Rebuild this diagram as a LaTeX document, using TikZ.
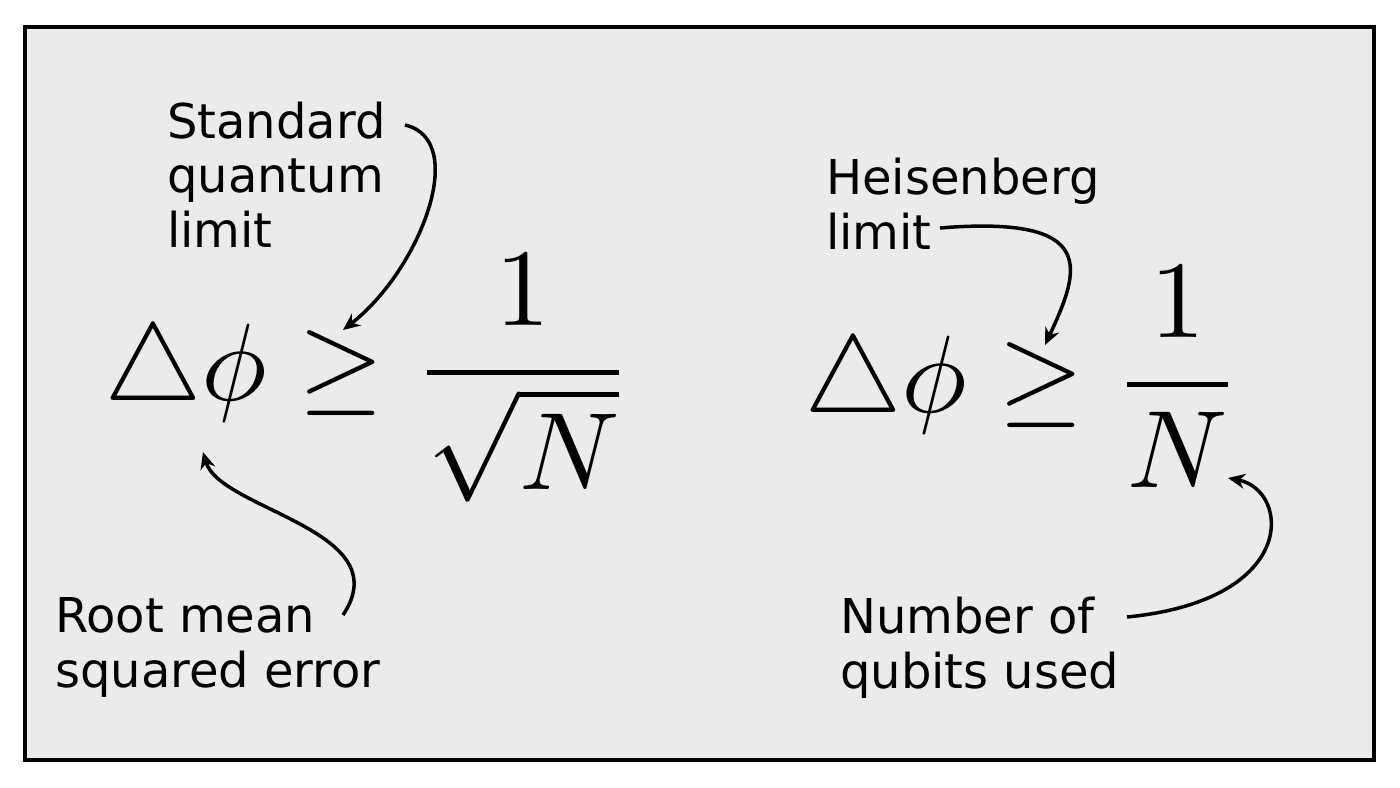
\documentclass[tikz,border=0pt]{standalone}
\usepackage{amsmath}
\usepackage{graphicx}
\usepackage{fontspec}
\setmainfont{DejaVu Sans}
\usetikzlibrary{arrows.meta}
\begin{document}
\begin{tikzpicture}[x=1pt,y=-1pt,
  lbl/.style={anchor=base west,align=left,font=\fontsize{48}{54.5}\selectfont,inner sep=0pt},
  eq/.style={anchor=base west,inner sep=0pt},
  arr/.style={line width=3.5pt,-{Stealth[length=17pt,width=15pt]}}]
\useasboundingbox (0,0) rectangle (1400,787);
\draw[line width=4pt,fill={rgb,255:red,235;green,235;blue,235}] (25,27) rectangle (1374,760);
\node[lbl] (sql) at (167,247) {Standard\\quantum\\limit};
\node[lbl] (rms) at (55,687) {Root mean\\squared error};
\node[lbl] (hl) at (826,249) {Heisenberg\\limit};
\node[lbl] (nq) at (840,688) {Number of\\qubits used};
\node[eq] (e1) at (104,400) {\scalebox{11}{$\triangle\phi\geq\dfrac{1}{\sqrt{N}}$}};
\node[eq] (e2) at (804,412) {\scalebox{11}{$\triangle\phi\geq\dfrac{1}{N}$}};
\coordinate (a1s) at (405,125); \coordinate (a1e) at (343,330);
\coordinate (a2s) at (343,615); \coordinate (a2e) at (203,452);
\coordinate (a3s) at (940,228); \coordinate (a3e) at (1045,345);
\coordinate (a4s) at (1127,617); \coordinate (a4e) at (1228,478);
\draw[arr] (a1s) .. controls (470,140) and (420,270) .. (a1e);
\draw[arr] (a2s) .. controls (400,530) and (220,510) .. (a2e);
\draw[arr] (a3s) .. controls (1100,215) and (1080,270) .. (a3e);
\draw[arr] (a4s) .. controls (1300,600) and (1290,490) .. (a4e);
\end{tikzpicture}
\end{document}
